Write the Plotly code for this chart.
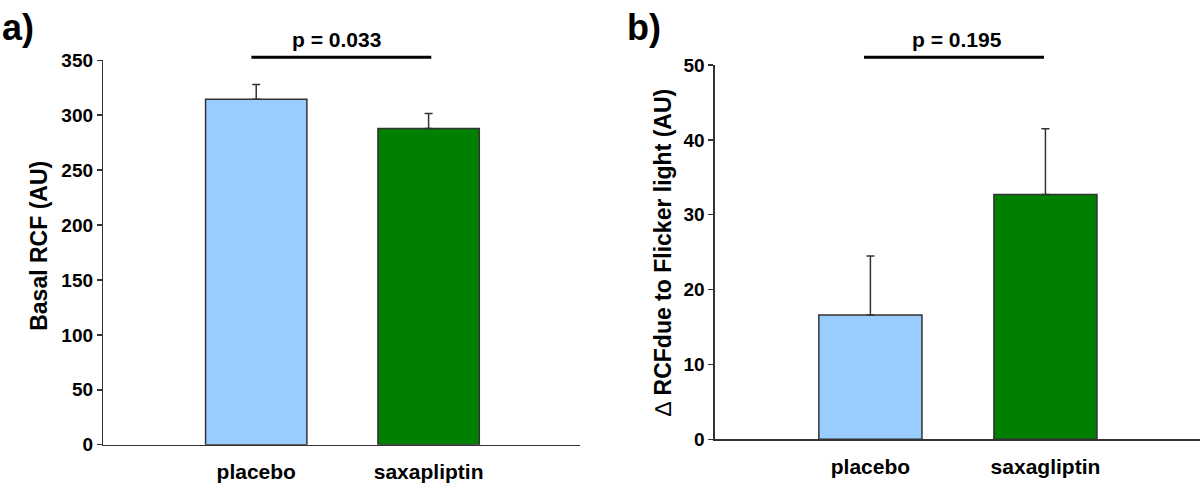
import plotly.graph_objects as go

# ---- data ----
categories_a = ["placebo", "saxapliptin"]
values_a = [314.6, 287.8]
errors_a = [13.3, 13.7]

categories_b = ["placebo", "saxagliptin"]
values_b = [16.6, 32.7]
errors_b = [7.9, 8.8]

bar_colors = ["#99CCFF", "#007F00"]
yticks_a = [0, 50, 100, 150, 200, 250, 300, 350]
yticks_b = [0, 10, 20, 30, 40, 50]
p_labels = ["p = 0.033", "p = 0.195"]
panel_labels = ["a)", "b)"]
y_titles = ["Basal RCF (AU)",
            "<span style='font-weight:normal'>\u2206</span> RCFdue to Flicker light (AU)"]

FONT = "Liberation Sans, Arial, sans-serif"
DARK = "#333333"

fig = go.Figure()

fig.add_trace(go.Bar(
    x=categories_a, y=values_a, width=0.588,
    marker=dict(color=bar_colors, line=dict(color=DARK, width=1.5)),
    error_y=dict(type="data", symmetric=False, array=errors_a, arrayminus=[0, 0],
                 color=DARK, thickness=1.5, width=4),
    xaxis="x", yaxis="y", showlegend=False, hoverinfo="skip"))

fig.add_trace(go.Bar(
    x=categories_b, y=values_b, width=0.589,
    marker=dict(color=bar_colors, line=dict(color=DARK, width=1.5)),
    error_y=dict(type="data", symmetric=False, array=errors_b, arrayminus=[0, 0],
                 color=DARK, thickness=1.5, width=4),
    xaxis="x2", yaxis="y2", showlegend=False, hoverinfo="skip"))

xcommon = dict(showline=True, linecolor=DARK, linewidth=1.5, ticks="", showgrid=False,
               zeroline=False, type="category", ticklabelstandoff=8, automargin=False,
               tickfont=dict(family=FONT, size=21, color="black", weight="bold"))
ycommon = dict(showline=True, linecolor=DARK, linewidth=1.5, ticks="outside", ticklen=5,
               tickwidth=1.5, tickcolor=DARK, showgrid=False, zeroline=False, automargin=False,
               tickfont=dict(family=FONT, size=19, color="black", weight="bold"))

fig.update_layout(
    width=1200, height=483,
    margin=dict(l=0, r=0, t=0, b=0, autoexpand=False),
    paper_bgcolor="white", plot_bgcolor="white",
    xaxis=dict(domain=[0.0861, 0.4833], range=[-0.887, 1.878], anchor="y", **xcommon),
    yaxis=dict(domain=[0.0793, 0.8752], range=[0, 350], tickvals=yticks_a, anchor="x", **ycommon),
    xaxis2=dict(domain=[0.5958, 1.0], range=[-0.888, 1.883], anchor="y2", **xcommon),
    yaxis2=dict(domain=[0.0905, 0.8654], range=[0, 50], tickvals=yticks_b, anchor="x2", **ycommon),
)

# significance lines
for x0, x1 in [(0.2095, 0.3594), (0.72, 0.87)]:
    fig.add_shape(type="line", xref="paper", yref="paper", x0=x0, x1=x1,
                  y0=0.8814, y1=0.8814, line=dict(color="black", width=3))

# p-value texts
for xp, txt in zip([0.2808, 0.7975], p_labels):
    fig.add_annotation(xref="paper", yref="paper", x=xp, y=0.919, text=txt,
                       showarrow=False, xanchor="center", yanchor="middle",
                       font=dict(family=FONT, size=21, color="black", weight="bold"))

# panel labels
for xp, txt in zip([0.0, 0.5208], panel_labels):
    fig.add_annotation(xref="paper", yref="paper", x=xp, y=0.943, text=txt,
                       showarrow=False, xanchor="left", yanchor="middle",
                       font=dict(family=FONT, size=36, color="black", weight="bold"))

# y axis titles
for xp, yp, txt in zip([0.0319, 0.5529], [0.4917, 0.4774], y_titles):
    fig.add_annotation(xref="paper", yref="paper", x=xp, y=yp, text=txt, textangle=-90,
                       showarrow=False, xanchor="center", yanchor="middle",
                       font=dict(family=FONT, size=23, color="black", weight="bold"))

fig.write_html("out.html",
               config={"displayModeBar": False, "staticPlot": True},
               post_script="document.body.style.margin='0';document.body.style.overflow='hidden';")
